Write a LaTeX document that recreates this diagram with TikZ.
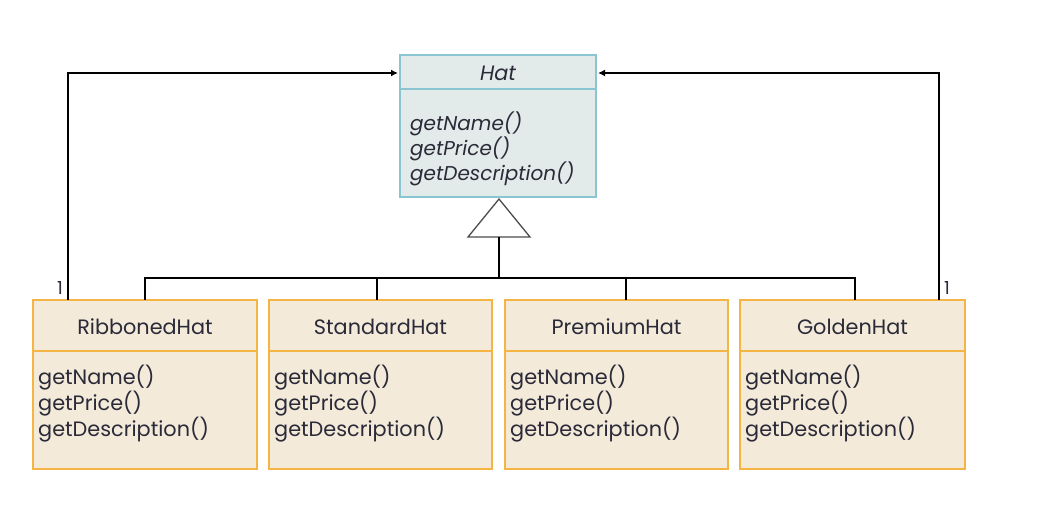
\documentclass[tikz,border=0pt]{standalone}
\usepackage{fontspec}
\setmainfont{Poppins}
\usetikzlibrary{arrows.meta}
\definecolor{hatfill}{HTML}{E2EAEA}
\definecolor{hatedge}{HTML}{8CC5D2}
\definecolor{subfill}{HTML}{F3EADA}
\definecolor{subedge}{HTML}{F5B545}
\definecolor{txt}{HTML}{2A2A38}
\tikzset{
  hatbox/.style={draw=hatedge, fill=hatfill, line width=1.2pt},
  subbox/.style={draw=subedge, fill=subfill, line width=1.4pt},
  conn/.style={draw=black, line width=1.6pt},
  txtnode/.style={inner sep=0pt, text=txt, font=\fontsize{20.8}{25}\selectfont},
}
\begin{document}
\begin{tikzpicture}[x=1pt,y=-1pt]
\useasboundingbox (0,0) rectangle (1051,530);
% Hat
\draw[hatbox] (400,55) rectangle (596,197);
\draw[draw=hatedge, line width=1.2pt] (400,89) -- (596,89);
\node[txtnode, font=\fontsize{20.8}{25}\selectfont\itshape] (hat) at (498,73) {Hat};
\node[txtnode, anchor=north west, align=left, font=\fontsize{20}{25}\selectfont\itshape] (hatm) at (410,112) {getName()\\getPrice()\\getDescription()};
\coordinate (hatL) at (398,73);
\coordinate (hatR) at (598,73);
% triangle
\coordinate (apex) at (499,199);
\draw[draw=black!70, line width=1.3pt, fill=white] (apex) -- (530,237) -- (468,237) -- cycle;
\coordinate (tribase) at (499,237);
\coordinate (bus) at (499,278);
% children
\foreach \name/\xa/\xb/\lab in {rib/33/257/RibbonedHat, std/269/492/StandardHat, prem/505/728/PremiumHat, gold/740/965/GoldenHat}{
  \draw[subbox] (\xa,300) rectangle (\xb,469);
  \draw[draw=subedge, line width=1.2pt] (\xa,351) -- (\xb,351);
  \node[txtnode] (\name) at ({(\xa+\xb)/2},327) {\lab};
  \node[txtnode, anchor=north west, align=left] (\name m) at (\xa+5,365) {getName()\\getPrice()\\getDescription()};
}
\coordinate (ribT) at (145,300);
\coordinate (stdT) at (377,300);
\coordinate (premT) at (626,300);
\coordinate (goldT) at (855,300);
\coordinate (ribA) at (68,300);
\coordinate (goldA) at (939,300);
% inheritance
\draw[conn] (tribase) -- (bus);
\draw[conn] (ribT) -- (145,278) -- (855,278) -- (goldT);
\draw[conn] (stdT) -- (377,278);
\draw[conn] (premT) -- (626,278);
% associations
\draw[conn, -{Latex[length=7pt,width=7pt]}] (ribA) -- (68,73) -- (hatL);
\draw[conn, -{Latex[length=7pt,width=7pt]}] (goldA) -- (939,73) -- (hatR);
\node[txtnode, font=\fontsize{18}{18}\selectfont] (m1) at (60,288) {1};
\node[txtnode, font=\fontsize{18}{18}\selectfont] (m2) at (947,288) {1};
\end{tikzpicture}
\end{document}
